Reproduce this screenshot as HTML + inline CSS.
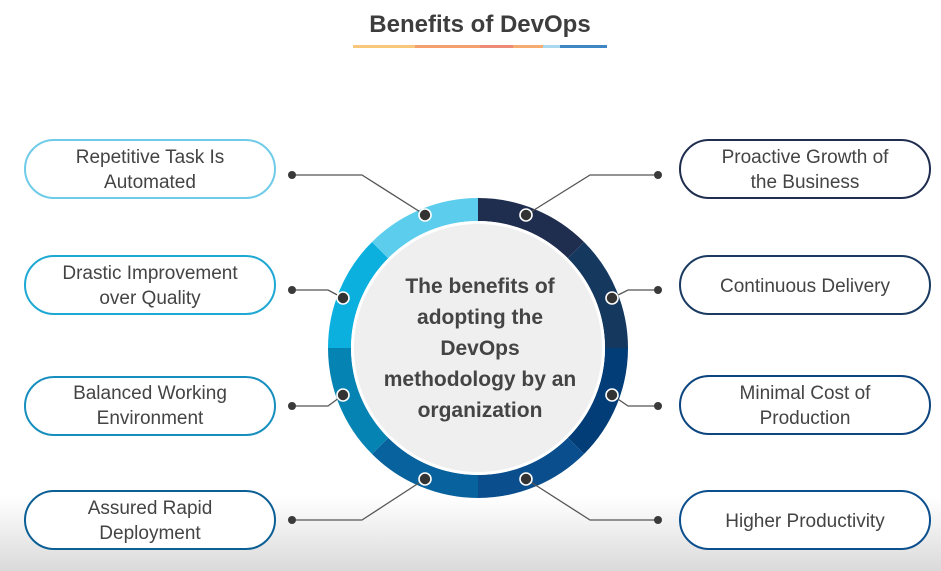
<!DOCTYPE html>
<html><head><style>
html,body{margin:0;padding:0;width:941px;height:571px;overflow:hidden;background:#fff}
</style></head><body>
<svg width="941" height="571" viewBox="0 0 941 571" xmlns="http://www.w3.org/2000/svg" font-family="Liberation Sans, sans-serif">
<defs>
<linearGradient id="bg" x1="0" y1="0" x2="0" y2="1">
<stop offset="0" stop-color="#ffffff"/><stop offset="0.87" stop-color="#ffffff"/><stop offset="1" stop-color="#dadada"/>
</linearGradient>
</defs>
<rect width="941" height="571" fill="url(#bg)"/>
<text x="480" y="32" text-anchor="middle" font-size="24" font-weight="bold" fill="#3d3d3d">Benefits of DevOps</text>
<rect x="353" y="45" width="62" height="3" fill="#f9c77b"/>
<rect x="415" y="45" width="65" height="3" fill="#f4a06c"/>
<rect x="480" y="45" width="33" height="3" fill="#ee8a78"/>
<rect x="513" y="45" width="30" height="3" fill="#f6ab70"/>
<rect x="543" y="45" width="17" height="3" fill="#a9d8ef"/>
<rect x="560" y="45" width="47" height="3" fill="#3f86c4"/>
<g transform="translate(478,348)">
<g fill="none" stroke-width="23">
<path d="M0,-138.5 A138.5,138.5 0 0 1 97.9,-97.9" stroke="#1f2d4e"/>
<path d="M97.9,-97.9 A138.5,138.5 0 0 1 138.5,0" stroke="#15385f"/>
<path d="M138.5,0 A138.5,138.5 0 0 1 97.9,97.9" stroke="#033d78"/>
<path d="M97.9,97.9 A138.5,138.5 0 0 1 0,138.5" stroke="#0a4e8e"/>
<path d="M0,138.5 A138.5,138.5 0 0 1 -97.9,97.9" stroke="#07629d"/>
<path d="M-97.9,97.9 A138.5,138.5 0 0 1 -138.5,0" stroke="#0584b3"/>
<path d="M-138.5,0 A138.5,138.5 0 0 1 -97.9,-97.9" stroke="#0bb0de"/>
<path d="M-97.9,-97.9 A138.5,138.5 0 0 1 0,-138.5" stroke="#5ccdec"/>
</g>
<circle r="127" fill="#fff"/>
<circle r="124" fill="#efeff0"/>
<g font-size="21" font-weight="bold" fill="#444" text-anchor="middle">
<text x="2" y="-55">The benefits of</text>
<text x="2" y="-24">adopting the</text>
<text x="2" y="7">DevOps</text>
<text x="2" y="38">methodology by an</text>
<text x="2" y="69">organization</text>
</g>
</g>
<g fill="none" stroke="#555" stroke-width="1.3">
<polyline points="425,215 362,175 292,175"/>
<polyline points="343,298 328,290 292,290"/>
<polyline points="343,395 328,406 292,406"/>
<polyline points="425,479 362,520 292,520"/>
<polyline points="526,215 590,175 658,175"/>
<polyline points="612,298 628,290 658,290"/>
<polyline points="612,395 628,406 658,406"/>
<polyline points="526,479 590,520 658,520"/>
</g>
<g fill="#333" stroke="#fff" stroke-width="1.6">
<circle cx="425" cy="215" r="6"/><circle cx="343" cy="298" r="6"/><circle cx="343" cy="395" r="6"/><circle cx="425" cy="479" r="6"/>
<circle cx="526" cy="215" r="6"/><circle cx="612" cy="298" r="6"/><circle cx="612" cy="395" r="6"/><circle cx="526" cy="479" r="6"/>
</g>
<g fill="#3a3a3a">
<circle cx="292" cy="175" r="4"/><circle cx="292" cy="290" r="4"/><circle cx="292" cy="406" r="4"/><circle cx="292" cy="520" r="4"/>
<circle cx="658" cy="175" r="4"/><circle cx="658" cy="290" r="4"/><circle cx="658" cy="406" r="4"/><circle cx="658" cy="520" r="4"/>
</g>
<g fill="#fff" stroke-width="2">
<rect x="25" y="140" width="250" height="58" rx="29" stroke="#6fcbe8"/>
<rect x="25" y="256" width="250" height="58" rx="29" stroke="#1ea8d4"/>
<rect x="25" y="377" width="250" height="58" rx="29" stroke="#168fbf"/>
<rect x="25" y="491" width="250" height="58" rx="29" stroke="#0c5f94"/>
<rect x="680" y="140" width="250" height="58" rx="29" stroke="#1f2d4e"/>
<rect x="680" y="256" width="250" height="58" rx="29" stroke="#1a3a62"/>
<rect x="680" y="376" width="250" height="58" rx="29" stroke="#0d4580"/>
<rect x="680" y="491" width="250" height="58" rx="29" stroke="#0c4f8e"/>
</g>
<g font-size="19" fill="#444" text-anchor="middle">
<text x="150" y="163">Repetitive Task Is</text><text x="150" y="188">Automated</text>
<text x="150" y="279">Drastic Improvement</text><text x="150" y="304">over Quality</text>
<text x="150" y="399">Balanced Working</text><text x="150" y="424">Environment</text>
<text x="150" y="514">Assured Rapid</text><text x="150" y="539">Deployment</text>
<text x="805" y="163">Proactive Growth of</text><text x="805" y="188">the Business</text>
<text x="805" y="292">Continuous Delivery</text>
<text x="805" y="399">Minimal Cost of</text><text x="805" y="424">Production</text>
<text x="805" y="527">Higher Productivity</text>
</g>
</svg>
</body></html>
